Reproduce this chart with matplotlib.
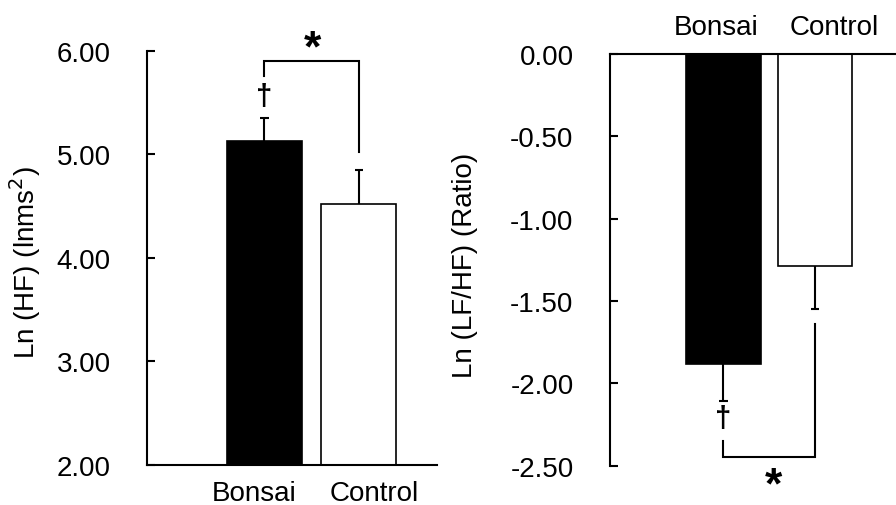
import matplotlib
matplotlib.use("Agg")
import matplotlib.pyplot as plt

plt.rcParams['font.family'] = ['Liberation Sans', 'DejaVu Sans']

groups = ["Bonsai", "Control"]
hf_mean = [5.13, 4.52]
hf_err = [0.22, 0.33]
lfhf_mean = [-1.88, -1.29]
lfhf_err = [0.23, 0.26]
hf_ticks = [2.0, 3.0, 4.0, 5.0, 6.0]
lfhf_ticks = [-2.5, -2.0, -1.5, -1.0, -0.5, 0.0]

fig = plt.figure(figsize=(8.96, 5.06), dpi=100)
W, H = 896, 506

def axes_px(l, r, t, b):
    return fig.add_axes([l / W, 1 - b / H, (r - l) / W, (b - t) / H])

pos = [0, 1]
colors = ["black", "white"]
lw = 1.5
FS = 20

# ---------- Left panel ----------
ax1 = axes_px(147, 437, 51.7, 465.7)
ax1.bar(pos, [m - 2.0 for m in hf_mean], bottom=2.0, width=0.8, color=colors,
        edgecolor="black", linewidth=1.2, zorder=2)
for x, m, e in zip(pos, hf_mean, hf_err):
    ax1.vlines(x, m, m + e, color="black", linewidth=lw, zorder=3)
    ax1.hlines(m + e, x - 0.045, x + 0.045, color="black", linewidth=lw, zorder=3)
ax1.set_ylim(2.0, 6.0)
ax1.set_xlim(-1.246, 1.83)
ax1.set_yticks(hf_ticks)
ax1.set_yticklabels([f"{t:.2f}" for t in hf_ticks])
ax1.set_xticks([-0.115, 1.164])
ax1.set_xticklabels(groups, fontsize=FS)
ax1.tick_params(axis="x", length=0, pad=11)
ax1.tick_params(axis="y", direction="in", length=6, width=lw, labelsize=FS, pad=26)
for s in ["top", "right"]:
    ax1.spines[s].set_visible(False)
for s in ["left", "bottom"]:
    ax1.spines[s].set_linewidth(lw)
ax1.set_ylabel("Ln (HF) (lnms$^2$)", fontsize=FS)
ax1.yaxis.set_label_coords(-0.359, 0.49)
# bracket
ax1.plot([0, 0, 1, 1], [5.76, 5.897, 5.897, 5.02], color="black", linewidth=lw,
         clip_on=False, solid_joinstyle="miter")
ax1.text(0, 5.56, "\u2020", ha="center", va="center", fontsize=21, fontweight="bold",
         clip_on=False)
ax1.text(0.507, 5.905, "*", ha="center", va="baseline", fontsize=32, fontweight="bold",
         clip_on=False)

# ---------- Right panel ----------
ax2 = axes_px(609.7, 896, 55, 466.7)
ax2.bar(pos, lfhf_mean, width=0.81, color=colors, edgecolor="black", linewidth=1.2,
        zorder=2)
for x, m, e in zip(pos, lfhf_mean, lfhf_err):
    ax2.vlines(x, m, m - e, color="black", linewidth=lw, zorder=3)
    ax2.hlines(m - e, x - 0.045, x + 0.045, color="black", linewidth=lw, zorder=3)
ax2.set_ylim(-2.5, 0.0)
ax2.set_xlim(-1.24, 1.88)
ax2.set_yticks(lfhf_ticks)
ax2.set_yticklabels([f"{t:.2f}" for t in lfhf_ticks])
ax2.xaxis.tick_top()
ax2.set_xticks([-0.085, 1.21])
ax2.set_xticklabels(groups, fontsize=FS)
ax2.tick_params(axis="x", length=0, pad=10)
ax2.tick_params(axis="y", direction="in", length=6, width=lw, labelsize=FS, pad=26)
for s in ["bottom", "right"]:
    ax2.spines[s].set_visible(False)
for s in ["left", "top"]:
    ax2.spines[s].set_linewidth(lw)
ax2.set_ylabel("Ln (LF/HF) (Ratio)", fontsize=FS)
ax2.yaxis.set_label_coords(-0.46, 0.49)
ax2.plot([0, 0, 1, 1], [-2.348, -2.445, -2.445, -1.64], color="black", linewidth=lw,
         clip_on=False, solid_joinstyle="miter")
ax2.text(0, -2.212, "\u2020", ha="center", va="center", fontsize=21, fontweight="bold",
         clip_on=False)
ax2.text(0.54, -2.69, "*", ha="center", va="baseline", fontsize=32, fontweight="bold",
         clip_on=False)

fig.savefig("out.png", dpi=100)
